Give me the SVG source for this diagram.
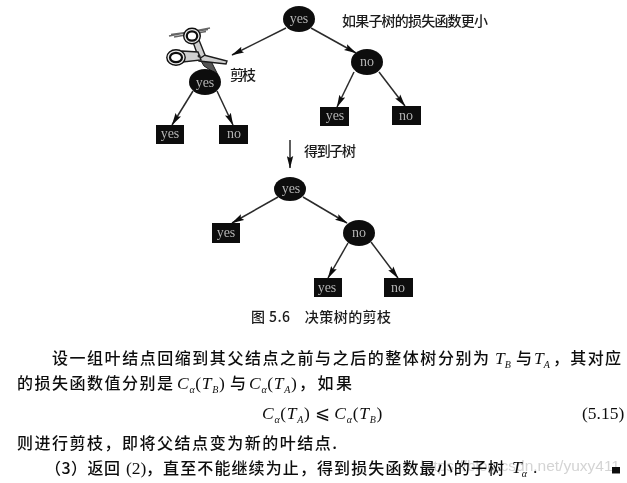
<svg xmlns="http://www.w3.org/2000/svg" width="627" height="483" viewBox="0 0 627 483">
<style>
.n{fill:#0a0a0a}
.l{font-family:"Liberation Serif",serif;font-size:14px;fill:#b4b4b4;text-anchor:middle}
.c{stroke:#2a2a2a;stroke-width:1.5;fill:none;marker-end:url(#a)}
.t{font-family:"Noto Sans CJK SC","Liberation Serif",serif;font-size:16px;font-weight:500;fill:#111}
.s{font-family:"Noto Sans CJK SC","Liberation Serif",serif;font-size:14px;font-weight:500;fill:#1a1a1a}
.m{font-family:"Liberation Serif",serif;font-size:17.5px;fill:#111}
.w{letter-spacing:0.7px}
.i{font-style:italic}
.u{font-size:10px;font-style:italic}
.sc{fill:#cfcfcf;stroke:#1c1c1c;stroke-width:1.4}
</style>
<defs>
<marker id="a" markerWidth="13" markerHeight="7" refX="12" refY="3.500" orient="auto" markerUnits="userSpaceOnUse"><path d="M0 0.300L12.500 3.500L0 6.700L2 3.500Z" fill="#111"/></marker>
<filter id="b" x="0" y="0" width="100%" height="100%"><feGaussianBlur stdDeviation="0.4"/></filter>
</defs>
<rect width="627" height="483" fill="#fff"/>
<g filter="url(#b)">
<g id="connectors">
<path class="c" d="M286 28L232 55"/>
<path class="c" d="M311 28L356 53"/>
<path class="c" d="M193 91L172 125"/>
<path class="c" d="M217 91L233 125"/>
<path class="c" d="M354 72L337 107"/>
<path class="c" d="M379 72L405 106"/>
<path class="c" d="M290 140L290 168"/>
<path class="c" d="M278 197L232 223"/>
<path class="c" d="M303 197L347 223"/>
<path class="c" d="M348 243L328 278"/>
<path class="c" d="M371 242L398 278"/>
</g>
<g id="scissors">
<path d="M169 36L210 28M171 34.500L208 29.500M174 37L206 31.500" stroke="#666" stroke-width="1.700" fill="none"/>
<path d="M198 56L209 57L218 75L204 66Z" fill="#555" stroke="#1c1c1c"/>
<path d="M196 53L227 61L226 64L199 61Z" class="sc"/>
<path d="M193 42L199 40L205 55L199 59Z" class="sc"/>
<path d="M182 51L198 52L201 60L183 62Z" class="sc"/>
<circle cx="199" cy="56" r="1.500" fill="#222"/>
<ellipse cx="192" cy="36" rx="8.300" ry="7.700" fill="#e8e8e8" stroke="#111" stroke-width="1.400"/>
<ellipse cx="192" cy="36" rx="5.200" ry="4.700" fill="#fff" stroke="#111" stroke-width="2.200"/>
<ellipse cx="176" cy="57.500" rx="9.200" ry="7.700" fill="#e8e8e8" stroke="#111" stroke-width="1.400"/>
<ellipse cx="176" cy="57.500" rx="6" ry="4.700" fill="#fff" stroke="#111" stroke-width="2.200"/>
</g>
<g id="root"><ellipse class="n" cx="299" cy="19" rx="16" ry="13"/><text class="l" x="299" y="23">yes</text></g>
<g id="left"><ellipse class="n" cx="205" cy="82" rx="16" ry="13"/><text class="l" x="205" y="87">yes</text></g>
<g id="right"><ellipse class="n" cx="367" cy="62" rx="16" ry="13"/><text class="l" x="367" y="66">no</text></g>
<g id="leaf1"><rect class="n" x="156" y="125" width="28" height="19"/><text class="l" x="170" y="138">yes</text></g>
<g id="leaf2"><rect class="n" x="219" y="125" width="29" height="19"/><text class="l" x="234" y="138">no</text></g>
<g id="leaf3"><rect class="n" x="320" y="107" width="29" height="19"/><text class="l" x="335" y="120">yes</text></g>
<g id="leaf4"><rect class="n" x="392" y="106" width="29" height="19"/><text class="l" x="406" y="120">no</text></g>
<g id="root2"><ellipse class="n" cx="290" cy="189" rx="16" ry="12"/><text class="l" x="291" y="193">yes</text></g>
<g id="right2"><ellipse class="n" cx="359" cy="233" rx="16" ry="13"/><text class="l" x="359" y="237">no</text></g>
<g id="leaf5"><rect class="n" x="212" y="223" width="28" height="20"/><text class="l" x="226" y="237">yes</text></g>
<g id="leaf6"><rect class="n" x="314" y="278" width="28" height="19"/><text class="l" x="327" y="292">yes</text></g>
<g id="leaf7"><rect class="n" x="384" y="278" width="29" height="19"/><text class="l" x="398" y="292">no</text></g>
<text class="s" x="342" y="26" textLength="146" lengthAdjust="spacing">如果子树的损失函数更小</text>
<text class="s" x="230" y="80" textLength="26" lengthAdjust="spacing">剪枝</text>
<text class="s" x="304" y="156" textLength="52" lengthAdjust="spacing">得到子树</text>
<text class="s" x="251" y="322" textLength="140" lengthAdjust="spacing">图 5.6　决策树的剪枝</text>
<text class="t" x="52" y="363.500" textLength="437" lengthAdjust="spacing">设一组叶结点回缩到其父结点之前与之后的整体树分别为</text>
<text class="m i" x="495" y="363.500">T<tspan class="u" dy="4">B</tspan></text>
<text class="t" x="516" y="363.500">与</text>
<text class="m i" x="534" y="363.500">T<tspan class="u" dy="4">A</tspan></text>
<text class="t" x="553" y="363.500" textLength="68" lengthAdjust="spacing">，其对应</text>
<text class="t" x="17" y="388.500" textLength="156" lengthAdjust="spacing">的损失函数值分别是</text>
<text class="m w" x="177" y="388.500"><tspan class="i">C</tspan><tspan class="u" dy="4">α</tspan><tspan dy="-4">(</tspan><tspan class="i">T</tspan><tspan class="u" dy="4">B</tspan><tspan dy="-4">)</tspan></text>
<text class="t" x="230" y="388.500">与</text>
<text class="m w" x="249" y="388.500"><tspan class="i">C</tspan><tspan class="u" dy="4">α</tspan><tspan dy="-4">(</tspan><tspan class="i">T</tspan><tspan class="u" dy="4">A</tspan><tspan dy="-4">)</tspan></text>
<text class="t" x="299" y="388.500" textLength="53" lengthAdjust="spacing">，如果</text>
<text class="m w" x="262" y="419"><tspan class="i">C</tspan><tspan class="u" dy="4">α</tspan><tspan dy="-4">(</tspan><tspan class="i">T</tspan><tspan class="u" dy="4">A</tspan><tspan dy="-4">)</tspan><tspan dx="4">⩽</tspan><tspan dx="4" class="i">C</tspan><tspan class="u" dy="4">α</tspan><tspan dy="-4">(</tspan><tspan class="i">T</tspan><tspan class="u" dy="4">B</tspan><tspan dy="-4">)</tspan></text>
<text class="m" x="582" y="419">(5.15)</text>
<text class="t" x="17" y="448.500" textLength="320" lengthAdjust="spacing">则进行剪枝，即将父结点变为新的叶结点.</text>
<text x="620" y="471" text-anchor="end" font-family="Liberation Sans,sans-serif" font-size="15.500" fill="#d4d4d4">https://blog.csdn.net/yuxy411</text>
<text class="t" x="45" y="474" textLength="75" lengthAdjust="spacing">（3）返回</text>
<text class="m" x="126" y="474">(2)</text>
<text class="t" x="146" y="474" textLength="358" lengthAdjust="spacing">，直至不能继续为止，得到损失函数最小的子树</text>
<text class="m i" x="512" y="473">T<tspan class="u" dy="4">α</tspan></text>
<text class="m" x="533" y="473">.</text>
<rect id="end" x="612" y="467" width="8" height="6.500" fill="#111"/>
</g>
</svg>
